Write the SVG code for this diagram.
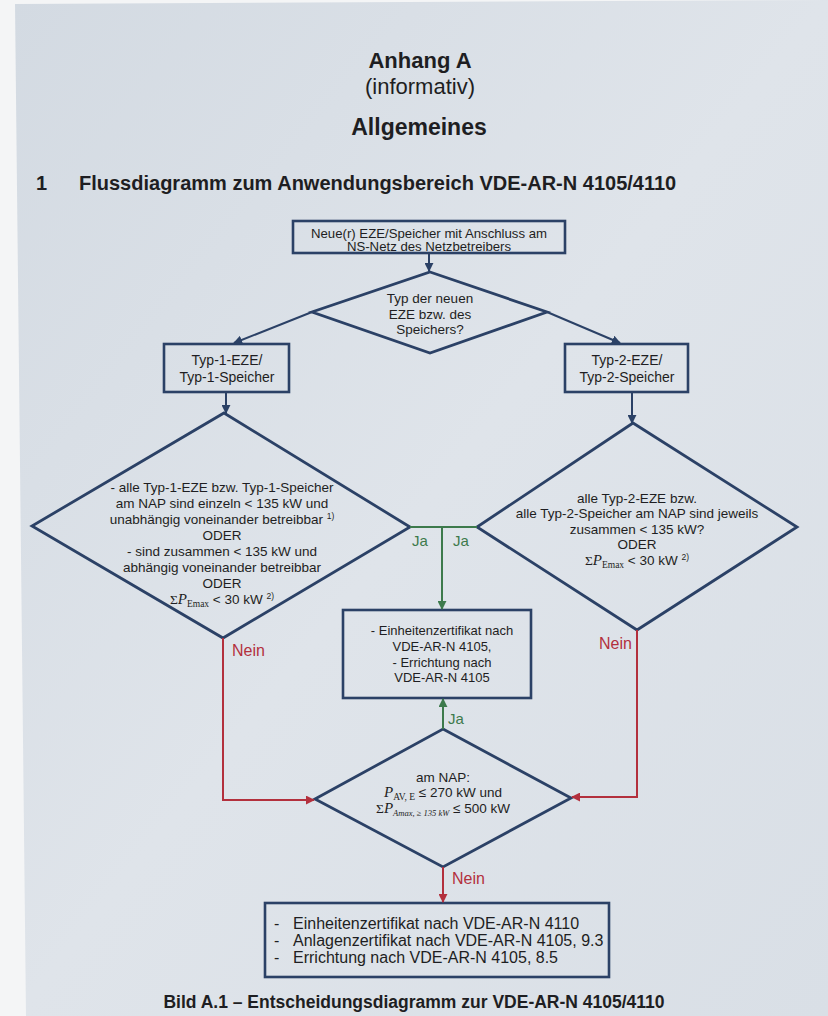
<svg xmlns="http://www.w3.org/2000/svg" width="828" height="1016" viewBox="0 0 828 1016">
<defs>
<linearGradient id="bg" x1="0" y1="0" x2="1" y2="1">
<stop offset="0" stop-color="#d3dae2"/>
<stop offset="0.5" stop-color="#dfe4ea"/>
<stop offset="1" stop-color="#d9dfe6"/>
</linearGradient>
<marker id="aN" viewBox="0 0 10 10" refX="9" refY="5" markerWidth="4.5" markerHeight="4.5" orient="auto"><path d="M0,0 L10,5 L0,10 z" fill="#2b4166"/></marker>
<marker id="aG" viewBox="0 0 10 10" refX="9" refY="5" markerWidth="4.5" markerHeight="4.5" orient="auto"><path d="M0,0 L10,5 L0,10 z" fill="#3d7a4c"/></marker>
<marker id="aR" viewBox="0 0 10 10" refX="9" refY="5" markerWidth="4.5" markerHeight="4.5" orient="auto"><path d="M0,0 L10,5 L0,10 z" fill="#b3303d"/></marker>
</defs>
<style>
text{font-family:"Liberation Sans",Arial,sans-serif;fill:#1e1e22}
.t{font-size:13.5px;text-anchor:middle}
.tt{font-size:13.2px;text-anchor:middle}
.tb{font-size:14px;text-anchor:middle}
.tc{font-size:13px;text-anchor:middle}
.tl{font-size:16px}
.box{fill:none;stroke:#2b4166;stroke-width:2.6}
.dia{fill:none;stroke:#2b4166;stroke-width:2.8;stroke-linejoin:miter}
.cn{fill:none;stroke:#2b4166;stroke-width:2;marker-end:url(#aN)}
.cg{fill:none;stroke:#3d7a4c;stroke-width:2}
.cr{fill:none;stroke:#b3303d;stroke-width:2}
.ja{font-size:15px;fill:#3d7a4c}
.nein{font-size:16px;fill:#b3303d}
.ser{font-family:"Liberation Serif","Times New Roman",serif}
.sup{font-size:8.5px}
</style>
<rect x="0" y="0" width="828" height="1016" fill="#f4f5f6"/>
<polygon points="15,4 828,0 828,1016 26,1016" fill="url(#bg)"/>

<g id="header">
<text x="420" y="68" style="font-size:22px;font-weight:bold;text-anchor:middle">Anhang A</text>
<text x="420" y="94" style="font-size:22px;text-anchor:middle">(informativ)</text>
<text x="419" y="135" style="font-size:23px;font-weight:bold;text-anchor:middle">Allgemeines</text>
<text x="36" y="190" style="font-size:20px;font-weight:bold">1</text>
<text x="79" y="190" style="font-size:20px;font-weight:bold">Flussdiagramm zum Anwendungsbereich VDE-AR-N 4105/4110</text>
</g>

<g id="n-start">
<rect class="box" x="293" y="221" width="272" height="32"/>
<text class="tt" x="429" y="238">Neue(r) EZE/Speicher mit Anschluss am</text>
<text class="tt" x="429" y="251">NS-Netz des Netzbetreibers</text>
</g>

<g id="n-typ">
<polygon class="dia" points="430,272 547,312 430,353 312,312"/>
<text class="t" x="430" y="303">Typ der neuen</text>
<text class="t" x="430" y="319">EZE bzw. des</text>
<text class="t" x="430" y="334">Speichers?</text>
</g>

<g id="n-typ1">
<rect class="box" x="164" y="344" width="125" height="48"/>
<text class="tb" x="227" y="365">Typ-1-EZE/</text>
<text class="tb" x="227" y="382">Typ-1-Speicher</text>
</g>

<g id="n-typ2">
<rect class="box" x="565" y="344" width="123" height="48"/>
<text class="tb" x="627" y="365">Typ-2-EZE/</text>
<text class="tb" x="627" y="382">Typ-2-Speicher</text>
</g>

<g id="n-cond1">
<polygon class="dia" points="224,413 410,527 223,638 32,526"/>
<text class="t" x="222" y="492">- alle Typ-1-EZE bzw. Typ-1-Speicher</text>
<text class="t" x="222" y="508">am NAP sind einzeln &lt; 135 kW und</text>
<text class="t" x="222" y="524">unabhängig voneinander betreibbar <tspan class="sup" dy="-5">1)</tspan></text>
<text class="t" x="222" y="540">ODER</text>
<text class="t" x="222" y="556">- sind zusammen &lt; 135 kW und</text>
<text class="t" x="222" y="572">abhängig voneinander betreibbar</text>
<text class="t" x="222" y="588">ODER</text>
<text class="t" x="222" y="604"><tspan class="ser">Σ</tspan><tspan class="ser" font-style="italic" font-size="15px">P</tspan><tspan class="ser" font-size="9.5px" dy="3">Emax</tspan><tspan dy="-3"> &lt; 30 kW </tspan><tspan class="sup" dy="-5">2)</tspan></text>
</g>

<g id="n-cond2">
<polygon class="dia" points="633,423 797,527 637,630 477,527"/>
<text class="t" x="637" y="503">alle Typ-2-EZE bzw.</text>
<text class="t" x="637" y="518">alle Typ-2-Speicher am NAP sind jeweils</text>
<text class="t" x="637" y="534">zusammen &lt; 135 kW?</text>
<text class="t" x="637" y="549">ODER</text>
<text class="t" x="637" y="565"><tspan class="ser">Σ</tspan><tspan class="ser" font-style="italic" font-size="15px">P</tspan><tspan class="ser" font-size="9.5px" dy="3">Emax</tspan><tspan dy="-3"> &lt; 30 kW </tspan><tspan class="sup" dy="-5">2)</tspan></text>
</g>

<g id="n-4105">
<rect class="box" x="343" y="610" width="188" height="88"/>
<text class="tc" x="442" y="635">- Einheitenzertifikat nach</text>
<text class="tc" x="442" y="651">VDE-AR-N 4105,</text>
<text class="tc" x="442" y="667">- Errichtung nach</text>
<text class="tc" x="442" y="682">VDE-AR-N 4105</text>
</g>

<g id="n-cond3">
<polygon class="dia" points="443,729 571,798 443,867 315,799"/>
<text class="t" x="443" y="782">am NAP:</text>
<text class="t" x="443" y="797"><tspan class="ser" font-style="italic" font-size="15px">P</tspan><tspan class="ser" font-size="9.5px" dy="3">AV, E</tspan><tspan dy="-3"> ≤ 270 kW und</tspan></text>
<text class="t" x="443" y="813"><tspan class="ser">Σ</tspan><tspan class="ser" font-style="italic" font-size="15px">P</tspan><tspan class="ser" font-style="italic" font-size="8.5px" dy="3">Amax, ≥ 135 kW</tspan><tspan dy="-3"> ≤ 500 kW</tspan></text>
</g>

<g id="n-4110">
<rect class="box" x="265" y="903" width="344" height="74"/>
<text class="tl" x="274" y="929">-</text>
<text class="tl" x="293" y="929">Einheitenzertifikat nach VDE-AR-N 4110</text>
<text class="tl" x="274" y="946">-</text>
<text class="tl" x="293" y="946">Anlagenzertifikat nach VDE-AR-N 4105, 9.3</text>
<text class="tl" x="274" y="963">-</text>
<text class="tl" x="293" y="963">Errichtung nach VDE-AR-N 4105, 8.5</text>
</g>

<g id="connectors">
<line class="cn" x1="429" y1="253" x2="429" y2="271"/>
<line class="cn" x1="312" y1="312" x2="234" y2="343"/>
<line class="cn" x1="547" y1="312" x2="620" y2="343"/>
<line class="cn" x1="226" y1="392" x2="226" y2="413"/>
<line class="cn" x1="632" y1="392" x2="632" y2="423"/>
<polyline class="cg" points="410,527 477,527"/>
<line class="cg" x1="442" y1="527" x2="442" y2="609" marker-end="url(#aG)"/>
<line class="cg" x1="443" y1="729" x2="443" y2="699" marker-end="url(#aG)"/>
<polyline class="cr" points="223,638 223,800 314,800" marker-end="url(#aR)"/>
<polyline class="cr" points="637,630 637,797 572,797" marker-end="url(#aR)"/>
<line class="cr" x1="443" y1="867" x2="443" y2="902" marker-end="url(#aR)"/>
<text class="ja" x="412" y="546">Ja</text>
<text class="ja" x="453" y="546">Ja</text>
<text class="ja" x="448" y="724">Ja</text>
<text class="nein" x="232" y="656">Nein</text>
<text class="nein" x="599" y="649">Nein</text>
<text class="nein" x="452" y="884">Nein</text>
</g>

<g id="caption">
<text x="414" y="1008" style="font-size:17.5px;font-weight:bold;text-anchor:middle">Bild A.1 – Entscheidungsdiagramm zur VDE-AR-N 4105/4110</text>
</g>
</svg>
